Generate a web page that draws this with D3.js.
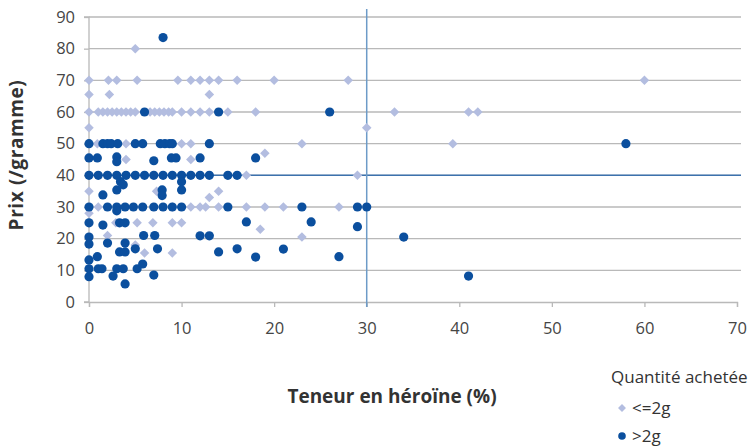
<!DOCTYPE html>
<html><head><meta charset="utf-8">
<script src="https://cdn.jsdelivr.net/npm/d3@7"></script>
<style>body{margin:0;background:#fff}svg{display:block}text{font-family:"Open Sans",sans-serif}</style>
</head><body><svg id="c" width="752" height="447"></svg>
<script>
const xTicks=[0,10,20,30,40,50,60,70];
const yTicks=[0,10,20,30,40,50,60,70,80,90];
const refX=30, refY=40;
const seriesNames=["<=2g",">2g"];
// <=2g (diamonds): [teneur %, prix]
const small=[
[5,80],
[0,70],[2.1,70],[3,70],[5.2,70],[9.6,70],[11,70],[12,70],[13,70],[14,70],[16,70],[20,70],[28,70],[60,70],
[0,65.5],[2.2,65.5],[13,65.5],
[0,60],[1,60],[1.5,60],[2,60],[2.5,60],[3,60],[3.5,60],[4,60],[4.5,60],[5,60],[6.6,60],[7.1,60],[7.6,60],[8.1,60],[8.6,60],[9,60],[10,60],[11,60],[12,60],[13,60],[15,60],[18,60],[33,60],[41,60],[42,60],
[0,55],[30,55],
[0.9,50],[4,50],[10,50],[11,50],[23,50],[39.3,50],[19,47],[4,45],[11,45],
[17,40],[29,40],
[0,35],[7.3,35],[14,35],[13,33],
[0,28],[1,30],[9,30],[11,30],[12,30],[12.6,30],[14,30],[17,30],[19,30],[21,30],[27,30],
[2.9,25],[5.2,25],[6.9,25],[9,25],[10,25],[18.5,23],
[2,21],[23,20.5],[5,18],[6,15.5],[9,15.5]
];
// >2g (circles)
const large=[
[8,83.5],
[6,60],[14,60],[26,60],
[0,50],[1.5,50],[2,50],[2.4,50],[3.1,50],[5,50],[5.8,50],[7.7,50],[8.2,50],[8.7,50],[9,50],[13,50],[58,50],
[0,45.5],[0.9,45.5],[3,45.8],[3,44.3],[7,44.6],[8.9,45.5],[9.4,45.5],[12,45.5],[18,45.5],
[0,40],[1,40],[2,40],[3,40],[4,40],[5,40],[6,40],[7,40],[8,40],[9,40],[10,40],[11,40],[12,40],[13,40],[15,40],[16,40],
[10,38],[10,35.4],[3.4,38],[3.7,37],[3,35.4],[1.5,33.8],[7.9,35.4],[7.9,33.6],
[0,30],[2,30],[3,30],[3.9,30],[4.8,30],[5.8,30],[7,30],[8,30],[9,30],[10,30],[15,30],[23,30],[29,30],[30,30],[3,28.8],
[0,25],[1.5,24.3],[3.3,25],[3.9,25],[17,25.3],[24,25.3],[29,23.8],
[0,20.5],[5.9,21],[7.1,21],[12,20.9],[13,20.9],[34,20.5],
[0,18.3],[2,18.6],[3.9,18.6],[5,16.8],[7.4,16.8],[3.3,15.8],[3.9,15.8],[14,15.8],[16,16.8],[21,16.7],
[0.9,14.3],[0,13.3],[18,14.2],[27,14.3],
[0,10.5],[1,10.5],[1.4,10.5],[3,10.5],[3.7,10.5],[5.2,10.5],[5.8,12],
[0,8],[2.6,8.2],[7,8.5],[41,8.2],[3.9,5.7]
];

const svg=d3.select("#c");
const x=d3.scaleLinear().domain([0,70]).range([89,737]);
const y=d3.scaleLinear().domain([0,90]).range([302,17]);
const cSmall="#b3bde0", cLarge="#0b4f9e";

svg.append("g").selectAll("line").data(yTicks.filter(d=>d>0)).join("line")
 .attr("x1",x(0)).attr("x2",741).attr("y1",d=>y(d)).attr("y2",d=>y(d))
 .attr("stroke","#b9b9b9").attr("stroke-width",1.3);

const gy=svg.append("g").attr("transform",`translate(${x(0)},0)`)
 .call(d3.axisLeft(y).tickValues(yTicks).tickSize(5).tickPadding(9));
const gx=svg.append("g").attr("transform",`translate(0,${y(0)})`)
 .call(d3.axisBottom(x).tickValues(xTicks).tickSize(5).tickPadding(15));
[gy,gx].forEach(g=>{
 g.select(".domain").attr("stroke","#b9b9b9").attr("stroke-width",1.3);
 g.selectAll(".tick line").attr("stroke","#b9b9b9").attr("stroke-width",1.3);
 g.selectAll(".tick text").attr("fill","#454545").attr("font-size",16.5).attr("font-family","'Open Sans',sans-serif");
});
gy.select(".domain").attr("d",`M-5,${y(0)}H0V${y(90)}H-5`);

svg.append("line").attr("x1",x(0)).attr("x2",741).attr("y1",y(refY)).attr("y2",y(refY))
 .attr("stroke","#3d72ad").attr("stroke-width",1.5);
svg.append("line").attr("x1",x(refX)).attr("x2",x(refX)).attr("y1",y(90)-8).attr("y2",y(0)+5)
 .attr("stroke","#6d9bc8").attr("stroke-width",1.5);

const diamond=d3.symbol().type(d3.symbolDiamond2).size(58);
svg.append("g").selectAll("path").data(small).join("path")
 .attr("d",diamond).attr("transform",d=>`translate(${x(d[0])},${y(d[1])})`).attr("fill",cSmall);
svg.append("g").selectAll("circle").data(large).join("circle")
 .attr("cx",d=>x(d[0])).attr("cy",d=>y(d[1])).attr("r",4.6).attr("fill",cLarge);

svg.append("text").attr("transform","translate(23,155) rotate(-90)").attr("text-anchor","middle")
 .attr("font-size",19).attr("font-weight",700).attr("fill","#333").attr("letter-spacing",0.6).text("Prix (/gramme)");
svg.append("text").attr("x",392).attr("y",403).attr("text-anchor","middle")
 .attr("font-size",19).attr("font-weight",700).attr("fill","#333").text("Teneur en héroïne (%)");

const lg=svg.append("g");
lg.append("text").attr("x",611).attr("y",383).attr("font-size",17).attr("fill","#333").text("Quantité achetée");
lg.append("path").attr("d",d3.symbol().type(d3.symbolDiamond2).size(40)).attr("transform","translate(622,408)").attr("fill",cSmall);
lg.append("text").attr("x",632).attr("y",414).attr("font-size",17).attr("fill","#333").text(seriesNames[0]);
lg.append("circle").attr("cx",622).attr("cy",436).attr("r",3.8).attr("fill",cLarge);
lg.append("text").attr("x",632).attr("y",442).attr("font-size",17).attr("fill","#333").text(seriesNames[1]);
</script></body></html>
